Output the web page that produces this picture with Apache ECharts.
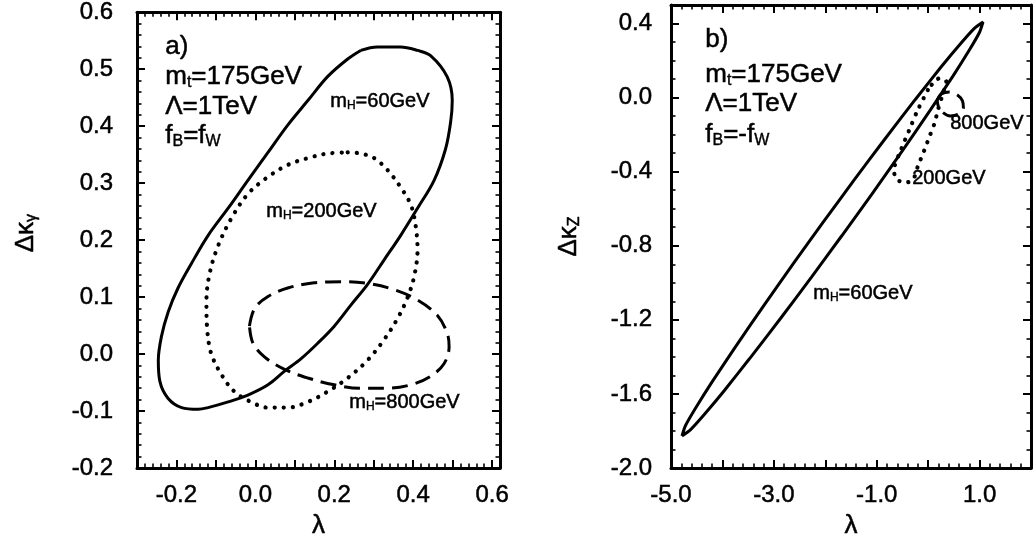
<!DOCTYPE html>
<html>
<head>
<meta charset="utf-8">
<script src="https://cdn.jsdelivr.net/npm/echarts@6/dist/echarts.min.js"></script>
<style>html,body{margin:0;padding:0;background:#fff}#c{width:1034px;height:547px}</style>
</head>
<body>
<div id="c"></div>
<script>
// ---------- data ----------
// panel a): lambda vs Delta kappa_gamma
const a_mH60 = [[0.267,0.533],[0.309,0.539],[0.368,0.539],[0.411,0.533],[0.444,0.524],[0.486,0.487],[0.499,0.445],[0.495,0.408],[0.482,0.360],[0.453,0.305],[0.411,0.256],[0.368,0.208],[0.326,0.165],[0.284,0.122],[0.242,0.086],[0.200,0.049],[0.158,0.019],[0.116,-0.008],[0.074,-0.030],[0.032,-0.054],[-0.019,-0.072],[-0.069,-0.084],[-0.120,-0.094],[-0.145,-0.097],[-0.187,-0.094],[-0.221,-0.078],[-0.242,-0.048],[-0.246,-0.011],[-0.238,0.031],[-0.221,0.074],[-0.196,0.116],[-0.162,0.159],[-0.120,0.208],[-0.069,0.256],[-0.019,0.305],[0.032,0.354],[0.082,0.402],[0.133,0.445],[0.183,0.487],[0.234,0.518],[0.267,0.533]];
const a_mH200 = [[0.234,0.354],[0.267,0.352],[0.301,0.344],[0.335,0.323],[0.368,0.293],[0.394,0.262],[0.406,0.226],[0.411,0.183],[0.402,0.135],[0.385,0.098],[0.360,0.062],[0.326,0.025],[0.284,-0.011],[0.234,-0.042],[0.183,-0.066],[0.133,-0.084],[0.082,-0.094],[0.032,-0.094],[-0.011,-0.084],[-0.053,-0.066],[-0.086,-0.036],[-0.112,0.001],[-0.122,0.043],[-0.124,0.092],[-0.116,0.141],[-0.095,0.189],[-0.061,0.238],[-0.019,0.281],[0.032,0.311],[0.082,0.332],[0.133,0.344],[0.183,0.352],[0.234,0.354]];
const a_mH800 = [[-0.015,0.049],[-0.002,0.080],[0.032,0.101],[0.082,0.116],[0.149,0.125],[0.217,0.127],[0.284,0.124],[0.352,0.113],[0.411,0.095],[0.461,0.068],[0.486,0.037],[0.491,0.013],[0.478,-0.017],[0.444,-0.039],[0.394,-0.054],[0.335,-0.060],[0.267,-0.060],[0.200,-0.054],[0.133,-0.042],[0.074,-0.027],[0.023,-0.005],[-0.006,0.019],[-0.015,0.049]];
// panel b): lambda vs Delta kappa_Z
const b_mH60 = [[-4.786,-1.827],[-4.720,-1.772],[-4.521,-1.676],[-4.201,-1.535],[-3.760,-1.351],[-3.196,-1.123],[-2.622,-0.897],[-2.041,-0.673],[-1.452,-0.450],[-0.855,-0.229],[-0.249,-0.010],[0.247,0.164],[0.629,0.291],[0.899,0.374],[1.067,0.408],[1.000,0.353],[0.801,0.257],[0.482,0.116],[0.041,-0.068],[-0.523,-0.296],[-1.097,-0.522],[-1.679,-0.746],[-2.268,-0.969],[-2.864,-1.190],[-3.471,-1.409],[-3.966,-1.583],[-4.349,-1.710],[-4.619,-1.793],[-4.786,-1.827]];
const b_mH200 = [[-0.006,0.041],[-0.202,-0.067],[-0.367,-0.175],[-0.530,-0.283],[-0.661,-0.391],[-0.627,-0.436],[-0.465,-0.459],[-0.300,-0.445],[-0.202,-0.373],[-0.073,-0.283],[0.025,-0.211],[0.124,-0.139],[0.190,-0.067],[0.288,0.023],[0.353,0.086],[0.222,0.104],[0.092,0.077],[-0.006,0.041]];
const b_mH800 = [[0.176,-0.013],[0.255,0.019],[0.412,0.030],[0.569,0.014],[0.667,-0.018],[0.686,-0.056],[0.588,-0.089],[0.431,-0.099],[0.275,-0.078],[0.196,-0.045],[0.176,-0.013]];
// tick labels
const aXLabels = [-0.2, 0.0, 0.2, 0.4, 0.6];
const aYLabels = [-0.2, -0.1, 0.0, 0.1, 0.2, 0.3, 0.4, 0.5, 0.6];
const bXLabels = [-5.0, -3.0, -1.0, 1.0];
const bYLabels = [-2.0, -1.6, -1.2, -0.8, -0.4, 0.0, 0.4];

// ---------- styling ----------
const FONT = "'Liberation Sans', Arial, Helvetica, sans-serif";
const K = '#000';
const STROKE = 0.5;
const fmt = v => (Math.abs(v) < 1e-9 ? 0 : v).toFixed(1);

const nameRich = {
  n: { fontFamily: FONT, fontSize: 26, color: K, lineHeight: 30, textBorderColor: K, textBorderWidth: STROKE },
  s: { fontFamily: FONT, fontSize: 16, color: K, lineHeight: 30, padding: [12, 0, 0, 0], textBorderColor: K, textBorderWidth: STROKE }
};

function axis(kind, pos, gridIndex, min, max, interval, minorSplit, labels, opt) {
  opt = opt || {};
  const isMain = (pos === 'bottom' || pos === 'left');
  const a = {
    type: 'value', gridIndex, position: pos, min, max, interval,
    axisLine: { show: true, onZero: false, lineStyle: { color: K, width: 3 } },
    axisTick: { show: true, inside: true, length: 8, lineStyle: { color: K, width: 2 } },
    minorTick: { show: true, splitNumber: minorSplit, length: 4.5, lineStyle: { color: K, width: 1.6 } },
    splitLine: { show: false }, minorSplitLine: { show: false },
    axisLabel: { show: isMain, customValues: labels, formatter: fmt, color: K,
      fontFamily: FONT, fontSize: 24, margin: opt.margin || 14,
      textBorderColor: K, textBorderWidth: STROKE },
    silent: true
  };
  if (isMain && opt.name) {
    a.name = opt.name; a.nameLocation = 'middle'; a.nameGap = opt.nameGap;
    a.nameTextStyle = { color: K, fontFamily: FONT, fontSize: 26, rich: nameRich, padding: opt.namePad || 0 };
    if (kind === 'y') a.nameRotate = 90;
  }
  return a;
}

function txt(x, y, parts, size) {
  // parts: array of [text, isSubscript]
  const small = Math.round(size * 0.62);
  const rich = {
    n: { fontFamily: FONT, fontSize: size, fill: K, lineHeight: size + 4, stroke: K, lineWidth: STROKE },
    s: { fontFamily: FONT, fontSize: small, fill: K, lineHeight: size + 4, padding: [Math.round(size * 0.5), 0, 0, 0], stroke: K, lineWidth: STROKE * 0.8 }
  };
  return {
    type: 'text', left: x, top: y, silent: true,
    style: { text: parts.map(p => '{' + (p[1] ? 's' : 'n') + '|' + p[0] + '}').join(''), rich, fill: K }
  };
}

const solid = { color: K, width: 3, type: 'solid' };
const dotted = { color: K, width: 4.2, type: [0.1, 9], cap: 'round' };
const dashed = { color: K, width: 3, type: [16, 8] };

function curve(data, xi, ls, sm) {
  return { type: 'line', xAxisIndex: xi, yAxisIndex: xi, data, showSymbol: false, symbol: 'none',
    smooth: sm, lineStyle: ls, silent: true, animation: false, clip: true };
}

const chart = echarts.init(document.getElementById('c'), null, { renderer: 'canvas' });
chart.setOption({
  animation: false,
  backgroundColor: '#fff',
  grid: [
    { left: 137, top: 10, width: 363, height: 458 },
    { left: 671, top: 5, width: 360, height: 463 }
  ],
  xAxis: [
    axis('x', 'bottom', 0, -0.3, 0.62, 0.1, 5, aXLabels, { name: '{n|λ}', nameGap: 42, margin: 15 }),
    axis('x', 'bottom', 1, -5, 2, 1, 5, bXLabels, { name: '{n|λ}', nameGap: 42, margin: 15 }),
    axis('x', 'top', 0, -0.3, 0.62, 0.1, 5, aXLabels),
    axis('x', 'top', 1, -5, 2, 1, 5, bXLabels)
  ],
  yAxis: [
    axis('y', 'left', 0, -0.2, 0.6, 0.1, 5, aYLabels, { name: '{n|Δκ}{s|γ}', nameGap: 96, margin: 24, namePad: [0, 0, 0, 14] }),
    axis('y', 'left', 1, -2.0, 0.5, 0.4, 4, bYLabels, { name: '{n|Δκ}{s|Z}', nameGap: 87, margin: 19 }),
    axis('y', 'right', 0, -0.2, 0.6, 0.1, 5, aYLabels),
    axis('y', 'right', 1, -2.0, 0.5, 0.4, 4, bYLabels)
  ],
  series: [
    curve(a_mH60, 0, solid, 0.35),
    curve(a_mH200, 0, dotted, 0.35),
    curve(a_mH800, 0, dashed, 0.35),
    curve(b_mH60, 1, solid, 0.2),
    curve(b_mH200, 1, dotted, 0.3),
    curve(b_mH800, 1, dashed, 0.35)
  ],
  graphic: [
    txt(165, 34, [['a)', 0]], 26),
    txt(165, 62, [['m', 0], ['t', 1], ['=175GeV', 0]], 26),
    txt(165, 94, [['Λ=1TeV', 0]], 26),
    txt(165, 121, [['f', 0], ['B', 1], ['=f', 0], ['W', 1]], 26),
    txt(330, 90, [['m', 0], ['H', 1], ['=60GeV', 0]], 20),
    txt(266, 200, [['m', 0], ['H', 1], ['=200GeV', 0]], 20),
    txt(349, 391, [['m', 0], ['H', 1], ['=800GeV', 0]], 20),
    txt(705, 27, [['b)', 0]], 26),
    txt(705, 60, [['m', 0], ['t', 1], ['=175GeV', 0]], 26),
    txt(705, 91, [['Λ=1TeV', 0]], 26),
    txt(705, 120, [['f', 0], ['B', 1], ['=-f', 0], ['W', 1]], 26),
    txt(950, 113, [['800GeV', 0]], 20),
    txt(912, 168, [['200GeV', 0]], 20),
    txt(813, 282, [['m', 0], ['H', 1], ['=60GeV', 0]], 20)
  ]
});
</script>
</body>
</html>
